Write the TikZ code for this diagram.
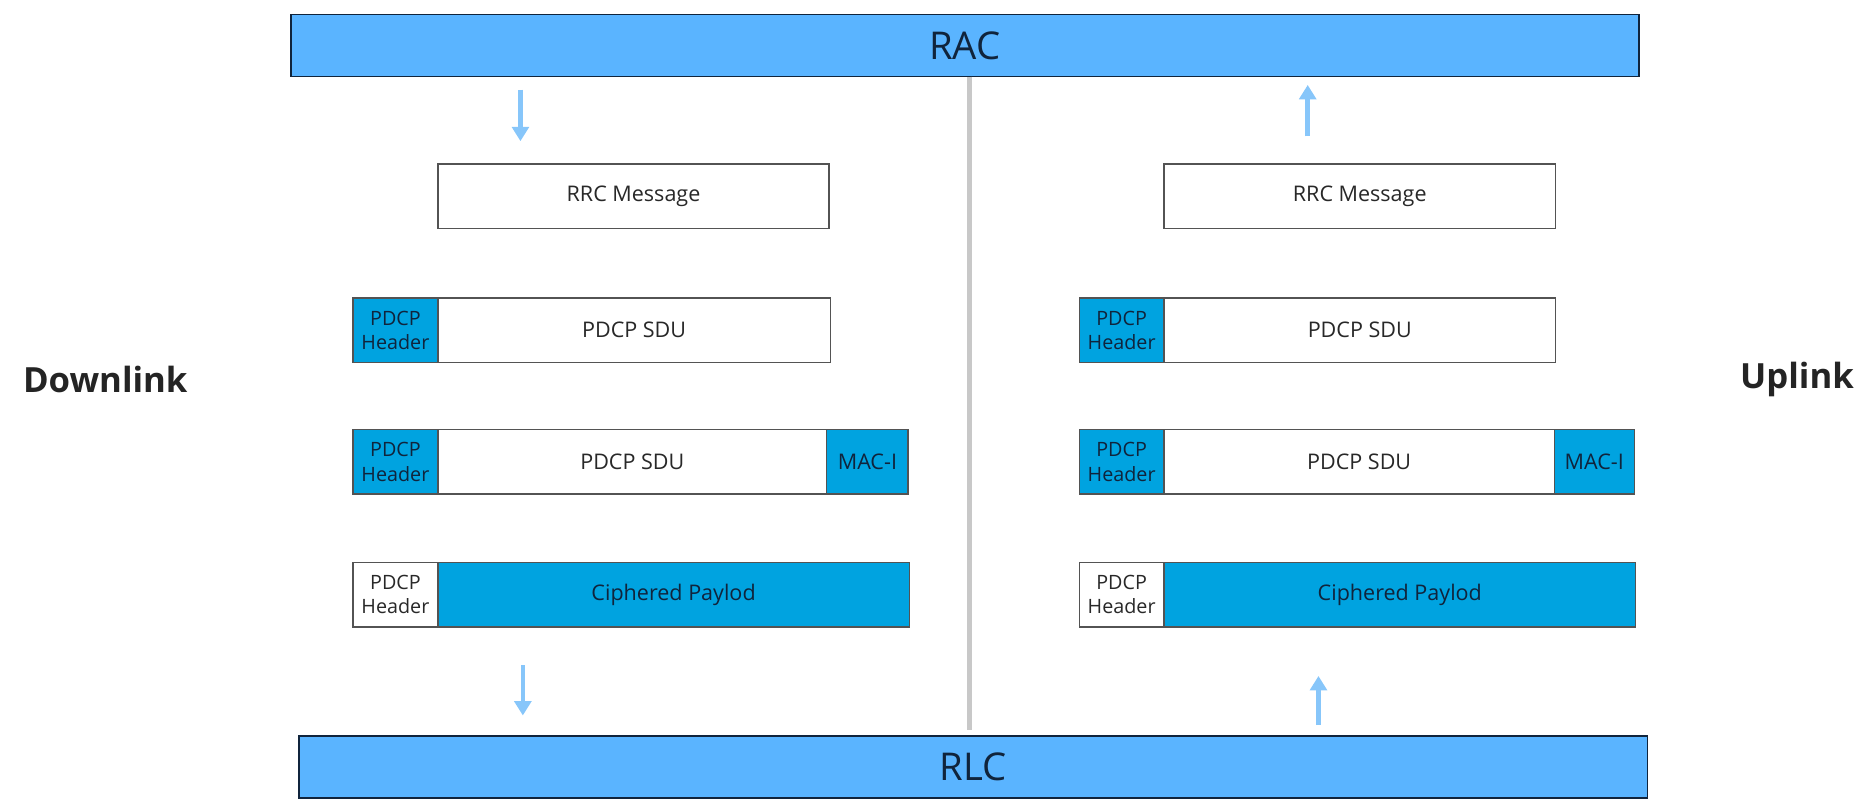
\documentclass[tikz,border=0pt]{standalone}
\usepackage{fontspec}
\setmainfont{Open Sans}
\usetikzlibrary{arrows.meta}
\definecolor{barblue}{RGB}{90,180,255}
\definecolor{hdrblue}{RGB}{0,163,224}
\definecolor{navy}{RGB}{16,36,60}
\definecolor{txtgray}{RGB}{40,40,40}
\definecolor{arrowblue}{RGB}{135,198,250}
\definecolor{divgray}{RGB}{200,200,200}
\tikzset{
  bar/.style={draw=navy, line width=1.3pt, fill=barblue, inner sep=0pt, text=navy,
    font=\fontsize{32}{36}\selectfont},
  cell/.style={draw=txtgray!80, line width=1.1pt, inner sep=0pt, minimum height=54pt,
    font=\fontsize{18}{21}\selectfont, text=txtgray, align=center},
  whitecell/.style={cell, fill=white},
  bluecell/.style={cell, fill=hdrblue, text=navy},
  hdr/.style={font=\fontsize{16.5}{20.5}\selectfont},
  flowarrow/.style={draw=arrowblue, line width=3.8pt, -{Triangle[length=12pt,width=14pt]}},
  divider/.style={draw=divgray, line width=4pt},
  side/.style={font=\fontsize{29}{33}\selectfont\bfseries, text=txtgray!90!black}
}
\begin{document}
\begin{tikzpicture}[x=1pt,y=-1pt]
\useasboundingbox (0,0) rectangle (1568,671);
% bars
\node[bar, minimum width=1127pt, minimum height=52pt] (rac) at (806.5,38) {RAC};
\node[bar, minimum width=1127pt, minimum height=52pt] (rlc) at (813.5,641) {RLC};
% divider
\coordinate (dtop) at (810,64);
\coordinate (dbot) at (810,610);
\draw[divider] (dtop) -- (dbot);
% side labels
\node[side] (dl) at (88,317) {Downlink};
\node[side] (ul) at (1502,317) {Uplink};
% ---- left column
\node[whitecell, minimum width=327pt] (lrrc) at (529.5,164) {RRC Message};
\node[bluecell, hdr, minimum width=71pt] (lh1) at (330.5,276) {PDCP\\Header};
\node[whitecell, minimum width=328pt] (lsdu1) at (530,276) {PDCP SDU};
\node[bluecell, hdr, minimum width=71pt] (lh2) at (330.5,386) {PDCP\\Header};
\node[whitecell, minimum width=325pt] (lsdu2) at (528.5,386) {PDCP SDU};
\node[bluecell, minimum width=68pt] (lmac) at (725,386) {MAC-I};
\node[whitecell, hdr, minimum width=71pt] (lh3) at (330.5,497) {PDCP\\Header};
\node[bluecell, minimum width=394pt] (lcp) at (563,497) {Ciphered Paylod};
% ---- right column
\node[whitecell, minimum width=327pt] (rrrc) at (1136.5,164) {RRC Message};
\node[bluecell, hdr, minimum width=71pt] (rh1) at (937.5,276) {PDCP\\Header};
\node[whitecell, minimum width=327pt] (rsdu1) at (1136.5,276) {PDCP SDU};
\node[bluecell, hdr, minimum width=71pt] (rh2) at (937.5,386) {PDCP\\Header};
\node[whitecell, minimum width=326pt] (rsdu2) at (1136,386) {PDCP SDU};
\node[bluecell, minimum width=67pt] (rmac) at (1332.5,386) {MAC-I};
\node[whitecell, hdr, minimum width=71pt] (rh3) at (937.5,497) {PDCP\\Header};
\node[bluecell, minimum width=394pt] (rcp) at (1170,497) {Ciphered Paylod};
% arrows
\coordinate (a1s) at (435,75);  \coordinate (a1e) at (435,118);
\coordinate (a2s) at (437,556); \coordinate (a2e) at (437,598);
\coordinate (a3s) at (1093,114); \coordinate (a3e) at (1093,71);
\coordinate (a4s) at (1102,606); \coordinate (a4e) at (1102,565);
\draw[flowarrow] (a1s) -- (a1e);
\draw[flowarrow] (a2s) -- (a2e);
\draw[flowarrow] (a3s) -- (a3e);
\draw[flowarrow] (a4s) -- (a4e);
\end{tikzpicture}
\end{document}
